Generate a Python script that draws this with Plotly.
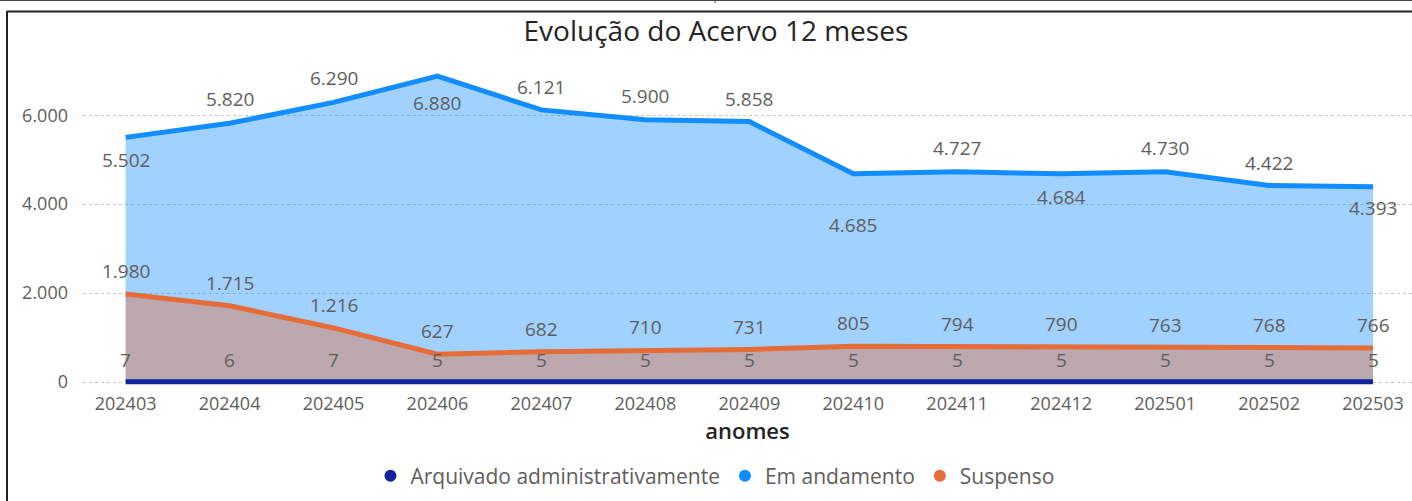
import plotly.graph_objects as go

meses = ["202403", "202404", "202405", "202406", "202407", "202408", "202409",
         "202410", "202411", "202412", "202501", "202502", "202503"]
em_andamento = [5502, 5820, 6290, 6880, 6121, 5900, 5858, 4685, 4727, 4684, 4730, 4422, 4393]
suspenso = [1980, 1715, 1216, 627, 682, 710, 731, 805, 794, 790, 763, 768, 766]
arquivado = [7, 6, 7, 5, 5, 5, 5, 5, 5, 5, 5, 5, 5]

# label offsets in px (positive = above the line)
off_em = [-23, 24, 24, -27, 23, 24, 23, -51, 24, -23, 24, 22, -21]
off_susp = [23] * 13
off_arq = [22] * 13

BLUE = "#118DFF"
ORANGE = "#E66C37"
NAVY = "#12239E"
GRAY = "#605E5C"
FONT = "Open Sans"

fig = go.Figure()
fig.add_trace(go.Scatter(x=meses, y=em_andamento, mode="lines", fill="tozeroy",
                         line=dict(color=BLUE, width=5), fillcolor="rgba(17,141,255,0.4)",
                         showlegend=False, hoverinfo="skip"))
fig.add_trace(go.Scatter(x=meses, y=suspenso, mode="lines", fill="tozeroy",
                         line=dict(color=ORANGE, width=5), fillcolor="rgba(230,108,55,0.4)",
                         showlegend=False, hoverinfo="skip"))
fig.add_trace(go.Scatter(x=meses, y=arquivado, mode="lines", fill="tozeroy",
                         line=dict(color=NAVY, width=5), fillcolor="rgba(18,35,158,0.4)",
                         showlegend=False, hoverinfo="skip"))

# legend entries (circle markers)
for name, col in [("Arquivado administrativamente", NAVY), ("Em andamento", BLUE), ("Suspenso", ORANGE)]:
    fig.add_trace(go.Scatter(x=[None], y=[None], mode="markers", name=name,
                             marker=dict(symbol="circle", size=15, color=col)))

def fmt(v):
    return f"{v:,}".replace(",", ".")

annotations = []
for series, offs in [(em_andamento, off_em), (suspenso, off_susp), (arquivado, off_arq)]:
    for i, (v, o) in enumerate(zip(series, offs)):
        annotations.append(dict(x=i, y=v, xref="x", yref="y", text=fmt(v), showarrow=False,
                                yshift=o, font=dict(family=FONT, size=19, color=GRAY)))

# frame shapes (paper coordinates relative to plot area)
L, R, T, B = 83, 1412, 53, 385
YMIN, YMAX = -67, 7400
W, H = R - L, B - T
def px(xp):
    return (xp - L) / W
def py(yp):
    return (B - yp) / H

shapes = [
    dict(type="line", xref="paper", yref="paper", x0=px(0), x1=px(1412), y0=py(0.5), y1=py(0.5),
         line=dict(color="#444444", width=1)),
    dict(type="line", xref="paper", yref="paper", x0=px(715), x1=px(715), y0=py(0), y1=py(3),
         line=dict(color="#444444", width=1)),
    dict(type="line", xref="paper", yref="paper", x0=px(7), x1=px(1412), y0=py(11.5), y1=py(11.5),
         line=dict(color="#222222", width=2)),
    dict(type="line", xref="paper", yref="paper", x0=px(7), x1=px(7), y0=py(11), y1=py(501),
         line=dict(color="#222222", width=2)),
]

fig.update_layout(
    width=1412, height=501,
    margin=dict(l=L, r=1412 - R, t=T, b=501 - B, autoexpand=False),
    paper_bgcolor="white", plot_bgcolor="white",
    separators=",.",
    font=dict(family=FONT, color=GRAY, size=18),
    title=dict(text="Evolução do Acervo 12 meses", x=0.507, xref="container", xanchor="center",
               y=1 - 31 / 501, yref="container", yanchor="middle",
               font=dict(family=FONT, size=28, color="#252423", weight=500)),
    showlegend=True,
    legend=dict(orientation="h", x=0.4755, xanchor="center", y=1 - 476 / 501, yref="container",
                yanchor="middle",
                font=dict(family=FONT, size=21, color=GRAY), itemsizing="constant",
                bgcolor="rgba(0,0,0,0)"),
    annotations=annotations,
    shapes=shapes,
    xaxis=dict(type="category", range=[-0.41, 12.375], showgrid=False, zeroline=False,
               showline=False, ticks="", ticklabelstandoff=6,
               tickfont=dict(family=FONT, size=18, color=GRAY),
               title=dict(text="anomes", font=dict(family=FONT, size=22, color="#252423", weight=600),
                          standoff=9)),
    yaxis=dict(range=[YMIN, YMAX], tickvals=[0, 2000, 4000, 6000], tickformat=",d",
               showgrid=True, gridcolor="#C8C6C4", griddash="dot", gridwidth=1,
               zeroline=False, showline=False, ticks="", ticklabelstandoff=14,
               tickfont=dict(family=FONT, size=18, color=GRAY)),
)

fig.write_html("out.html", config={"displayModeBar": False},
               post_script="document.body.style.margin='0';")
